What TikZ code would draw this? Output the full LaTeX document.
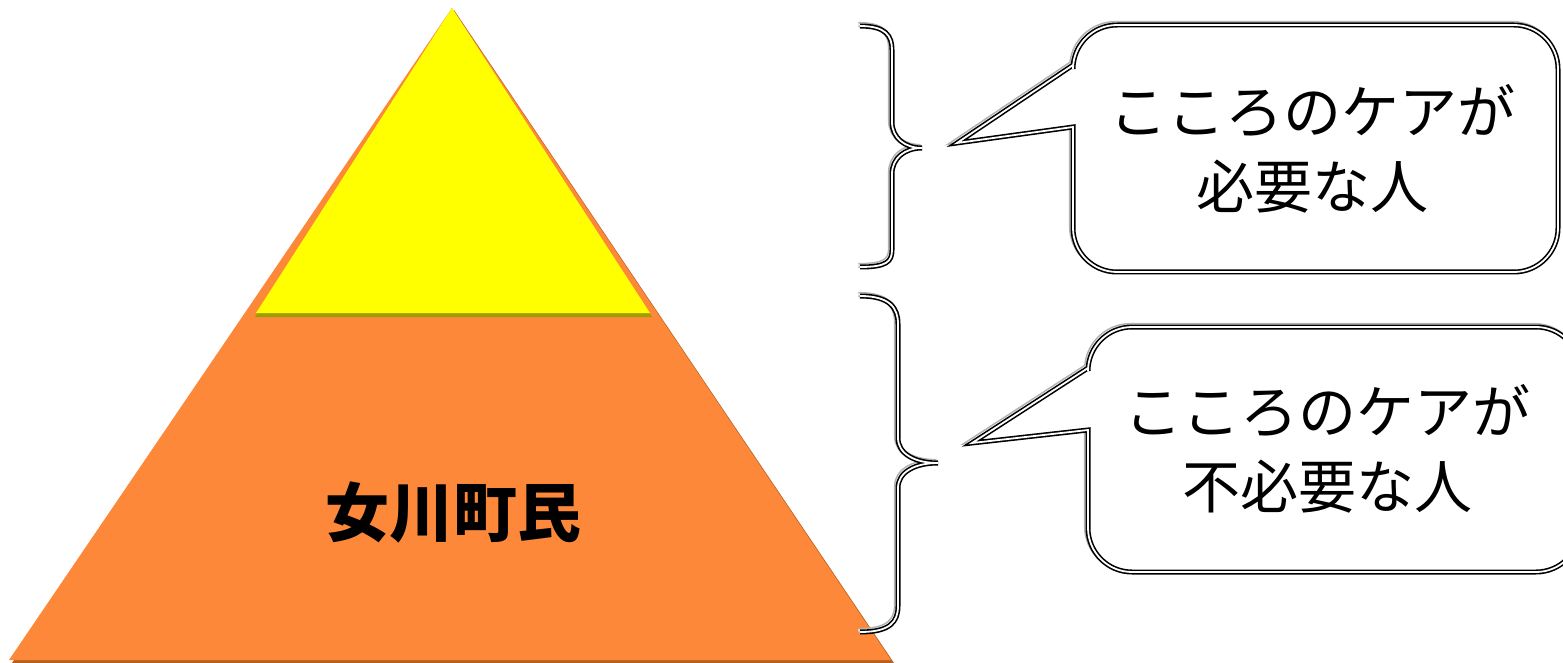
\documentclass[tikz,border=0pt]{standalone}
\usepackage{fontspec}
\setmainfont{Noto Sans CJK JP}
\usepackage{tikz}
\usetikzlibrary{calc, positioning}
\definecolor{pyellow}{HTML}{FFFF00}
\definecolor{porange}{HTML}{FD8839}
\definecolor{pshade}{HTML}{B8601F}
\definecolor{pyshade}{HTML}{9E9E00}
\tikzset{>=latex}
\tikzset{
  edgeline/.style={line width=0.8pt, double=white, double distance=0.9pt,
    preaction={draw=gray!60, line width=0.8pt, double=white, double distance=0.9pt,
      transform canvas={shift={(-0.8pt,0.8pt)}}}},
  callout/.style={edgeline, fill=white},
  calltext/.style={font=\fontsize{29}{37.5}\selectfont, align=center}
}

\begin{document}
\begin{tikzpicture}[x=0.5pt, y=-0.5pt]
  \useasboundingbox (0,0) rectangle (1563,663); %
  % pyramid
  \fill[pshade] (12,663) -- (454,10) -- (894,663) -- cycle; %
  \fill[porange] (9,660) -- (452,8) -- (891,660) -- cycle; %
  \fill[pyshade] (255,317) -- (453,10) -- (652,317) -- cycle; %
  \fill[pyellow] (256,313) -- (452,8) -- (650,313) -- cycle; %
  \node[font=\fontsize{32}{32}\bfseries\selectfont] (town) at (453,512) {女川町民}; %
  % braces
  \draw[edgeline] (860,26) .. controls (886,26) and (892,36) .. (892,50) -- (892,122)
    .. controls (892,138) and (905,148) .. (922,148)
    .. controls (905,148) and (892,158) .. (892,174) -- (892,250)
    .. controls (892,262) and (886,267) .. (860,267); %
  \draw[edgeline] (860,296) .. controls (890,296) and (898,308) .. (898,324) -- (898,438)
    .. controls (898,454) and (915,463) .. (938,463)
    .. controls (915,463) and (898,472) .. (898,488) -- (898,606)
    .. controls (898,622) and (890,632) .. (860,632); %
  % callouts
  \coordinate (tipA) at (957,143); %
  \coordinate (tipB) at (972,443); %
  \draw[callout] (tipA) -- (1073,127) [rounded corners=22pt] -- (1073,272) -- (1558,272)
    -- (1558,25) -- (1073,25) [sharp corners] -- (1073,65) -- cycle; %
  \draw[callout] (tipB) -- (1088,430) [rounded corners=22pt] -- (1088,572) -- (1580,572)
    -- (1580,327) -- (1088,327) [sharp corners] -- (1088,368) -- cycle; %
  \node[calltext] (needA) at (1312,149) {こころのケアが\\必要な人}; %
  \node[calltext] (needB) at (1327,449) {こころのケアが\\不必要な人}; %
\end{tikzpicture}
\end{document}
